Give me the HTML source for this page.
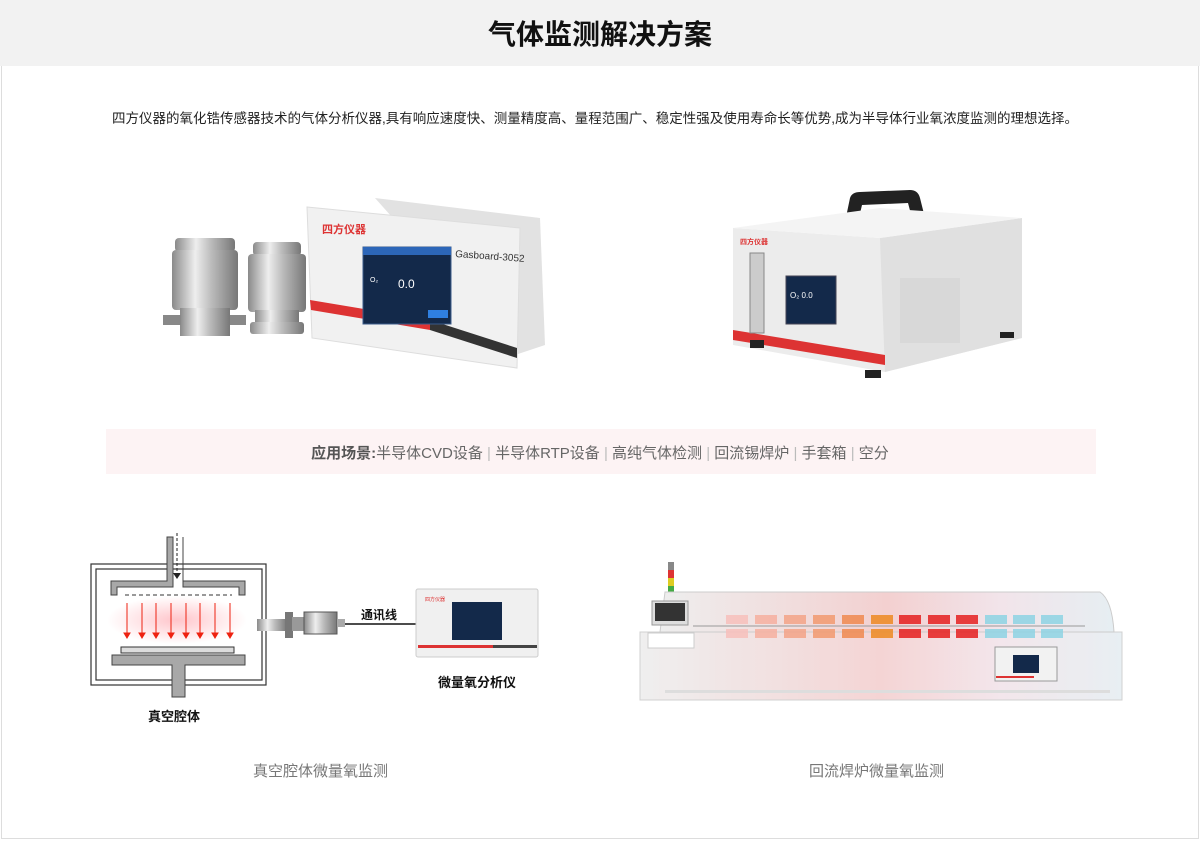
<!DOCTYPE html>
<html><head><meta charset="utf-8"><style>
*{margin:0;padding:0;box-sizing:border-box}
body{width:1200px;height:841px;background:#fff;position:relative;overflow:hidden;font-family:"Liberation Sans","Noto Sans CJK SC",sans-serif}
.hdr{position:absolute;left:0;top:0;width:1200px;height:66px;background:#f2f2f2;text-align:center;font-size:28px;font-weight:bold;line-height:70px;color:#111}
.frame{position:absolute;left:1px;top:66px;width:1198px;height:773px;border:1px solid #ddd;border-top:none}
.t{position:absolute;white-space:nowrap}
svg{position:absolute;left:0;top:0}
</style></head><body>
<div class="hdr">气体监测解决方案</div>
<div class="frame"></div>
<div class="t" style="left:112px;top:107px;font-size:13.5px;color:#222">四方仪器的氧化锆传感器技术的气体分析仪器,具有响应速度快、测量精度高、量程范围广、稳定性强及使用寿命长等优势,成为半导体行业氧浓度监测的理想选择。</div>
<div style="position:absolute;left:106px;top:429px;width:990px;height:45px;background:#fdf3f4"></div>
<div class="t" style="left:0;width:1200px;text-align:center;top:442px;font-size:15px;color:#666"><b style="color:#555">应用场景:</b>半导体CVD设备<span style="color:#bbb"> | </span>半导体RTP设备<span style="color:#bbb"> | </span>高纯气体检测<span style="color:#bbb"> | </span>回流锡焊炉<span style="color:#bbb"> | </span>手套箱<span style="color:#bbb"> | </span>空分</div>
<svg width="1200" height="841" viewBox="0 0 1200 841">
<defs>
<linearGradient id="met" x1="0" x2="1"><stop offset="0" stop-color="#8a8a8a"/><stop offset=".35" stop-color="#eee"/><stop offset=".6" stop-color="#bbb"/><stop offset="1" stop-color="#777"/></linearGradient>
<radialGradient id="glow"><stop offset="0" stop-color="#ff5a6a" stop-opacity=".35"/><stop offset="1" stop-color="#ff5a6a" stop-opacity="0"/></radialGradient>
<linearGradient id="heat" x1="0" x2="1"><stop offset="0" stop-color="#eee"/><stop offset=".5" stop-color="#f3d0d0"/><stop offset=".75" stop-color="#f2e4ea"/><stop offset="1" stop-color="#e6eef2"/></linearGradient>
</defs>
<g>
<rect x="175" y="238" width="60" height="14" rx="4" fill="url(#met)"/>
<rect x="172" y="250" width="66" height="60" rx="4" fill="url(#met)"/>
<rect x="180" y="308" width="50" height="28" fill="url(#met)"/>
<rect x="163" y="315" width="18" height="10" fill="#888"/>
<rect x="230" y="315" width="16" height="10" fill="#888"/>
<rect x="253" y="242" width="48" height="14" rx="4" fill="url(#met)"/>
<rect x="248" y="254" width="58" height="58" rx="4" fill="url(#met)"/>
<rect x="255" y="310" width="44" height="16" fill="url(#met)"/>
<rect x="250" y="322" width="54" height="12" rx="3" fill="url(#met)"/>
</g>
<polygon points="375,198 540,218 545,345 515,355" fill="#e2e2e2"/>
<polygon points="307,207 520,228 517,368 312,338" fill="#f1f1f1" stroke="#ddd"/>
<polygon points="310,300 430,320 430,330 311,310" fill="#d33"/>
<polygon points="430,320 517,348 517,358 430,330" fill="#333"/>
<rect x="363" y="247" width="88" height="77" fill="#13294a" stroke="#3a5a8a"/>
<rect x="363" y="247" width="88" height="8" fill="#2c66b8"/>
<text x="370" y="282" font-size="7" fill="#fff">O₂</text>
<text x="398" y="288" font-size="12" fill="#fff">0.0</text>
<rect x="428" y="310" width="20" height="8" fill="#2f7fe0"/>
<text x="322" y="233" font-size="11" fill="#d33" font-weight="bold">四方仪器</text>
<text x="455" y="257" font-size="10" fill="#333" transform="rotate(4 455 257)">Gasboard-3052</text>
<path d="M845,222 L850,198 Q852,192 860,192 L910,190 Q918,190 920,198 L925,218 L912,218 L908,203 L862,205 L858,222Z" fill="#222"/>
<polygon points="733,228 880,238 1022,218 1022,338 885,372 733,345" fill="#ececec"/>
<polygon points="880,238 1022,218 1022,338 885,372" fill="#e0e0e0"/>
<polygon points="733,228 880,238 1022,218 880,208" fill="#f4f4f4"/>
<polygon points="733,330 885,355 885,365 733,340" fill="#d33"/>
<rect x="750" y="253" width="14" height="80" fill="#ccc" stroke="#888"/>
<rect x="786" y="276" width="50" height="48" fill="#13294a" stroke="#445"/>
<text x="790" y="298" font-size="8" fill="#fff">O₂  0.0</text>
<rect x="900" y="278" width="60" height="65" fill="#d8d8d8"/>
<text x="740" y="244" font-size="7" fill="#d33" font-weight="bold">四方仪器</text>
<rect x="750" y="340" width="14" height="8" fill="#222"/><rect x="865" y="370" width="16" height="8" fill="#222"/><rect x="1000" y="332" width="14" height="6" fill="#222"/>
<rect x="91" y="564" width="175" height="121" fill="none" stroke="#333" stroke-width="1.2"/>
<rect x="96" y="569" width="166" height="111" fill="none" stroke="#333" stroke-width="1.2"/>
<ellipse cx="177" cy="620" rx="70" ry="24" fill="url(#glow)"/>
<path d="M167,537 V581 H111 V595 H117 V587 H173 V537Z M183,537 V581 H245 V595 H239 V587 H183 V537Z" fill="#a8a8a8" stroke="#444"/>
<line x1="177" y1="533" x2="177" y2="574" stroke="#222" stroke-dasharray="3,2"/>
<polygon points="173,573 181,573 177,579" fill="#222"/>
<line x1="125" y1="595" x2="232" y2="595" stroke="#333" stroke-dasharray="4,3"/>
<g stroke="#e21" fill="#e21">
<line x1="127" y1="603" x2="127" y2="633"/><line x1="142" y1="603" x2="142" y2="633"/><line x1="156" y1="603" x2="156" y2="633"/><line x1="171" y1="603" x2="171" y2="633"/><line x1="186" y1="603" x2="186" y2="633"/><line x1="200" y1="603" x2="200" y2="633"/><line x1="215" y1="603" x2="215" y2="633"/><line x1="230" y1="603" x2="230" y2="633"/>
<polygon points="124,633 130,633 127,638"/><polygon points="139,633 145,633 142,638"/><polygon points="153,633 159,633 156,638"/><polygon points="168,633 174,633 171,638"/><polygon points="183,633 189,633 186,638"/><polygon points="197,633 203,633 200,638"/><polygon points="212,633 218,633 215,638"/><polygon points="227,633 233,633 230,638"/>
</g>
<rect x="121" y="647" width="113" height="6" fill="#ddd" stroke="#333"/>
<path d="M112,655 H245 V665 H185 V697 H172 V665 H112Z" fill="#a8a8a8" stroke="#444"/>
<rect x="257" y="619" width="30" height="12" fill="url(#met)"/>
<rect x="285" y="612" width="8" height="26" fill="#777"/>
<rect x="292" y="617" width="12" height="14" fill="#999"/>
<rect x="304" y="612" width="33" height="22" fill="url(#met)" stroke="#555"/>
<rect x="337" y="619" width="8" height="8" fill="#aaa"/>
<line x1="345" y1="624" x2="416" y2="624" stroke="#111" stroke-width="1.5"/>
<rect x="416" y="589" width="122" height="68" rx="2" fill="#f0f0f0" stroke="#ccc"/>
<rect x="452" y="602" width="50" height="38" fill="#13294a"/>
<rect x="418" y="645" width="75" height="3" fill="#d33"/><rect x="493" y="645" width="44" height="3" fill="#444"/>
<text x="425" y="601" font-size="5" fill="#d33">四方仪器</text>
<rect x="668" y="562" width="6" height="30" fill="#888"/><rect x="668" y="570" width="6" height="8" fill="#d33"/><rect x="668" y="578" width="6" height="8" fill="#dc2"/><rect x="668" y="586" width="6" height="6" fill="#4a4"/>
<path d="M660,632 L665,592 L1100,592 Q1112,600 1114,632Z" fill="url(#heat)" stroke="#ccc"/>
<rect x="640" y="632" width="482" height="68" fill="url(#heat)" stroke="#ccc" opacity=".9"/>
<rect x="652" y="601" width="36" height="24" fill="#ddd" stroke="#999"/><rect x="655" y="603" width="30" height="18" fill="#333"/>
<rect x="648" y="633" width="46" height="15" fill="#fff" stroke="#ccc"/>
<g opacity=".85">
<rect x="726" y="615" width="22" height="9" fill="#f8c0bc"/><rect x="755" y="615" width="22" height="9" fill="#f6b0a0"/><rect x="784" y="615" width="22" height="9" fill="#f4a488"/><rect x="813" y="615" width="22" height="9" fill="#f29a70"/><rect x="842" y="615" width="22" height="9" fill="#f08a50"/><rect x="871" y="615" width="22" height="9" fill="#ee8a22"/><rect x="899" y="615" width="22" height="9" fill="#e62020"/><rect x="928" y="615" width="22" height="9" fill="#e62020"/><rect x="956" y="615" width="22" height="9" fill="#e62020"/><rect x="985" y="615" width="22" height="9" fill="#8ed4e4"/><rect x="1013" y="615" width="22" height="9" fill="#8ed4e4"/><rect x="1041" y="615" width="22" height="9" fill="#8ed4e4"/>
<rect x="726" y="629" width="22" height="9" fill="#f8c0bc"/><rect x="755" y="629" width="22" height="9" fill="#f6b0a0"/><rect x="784" y="629" width="22" height="9" fill="#f4a488"/><rect x="813" y="629" width="22" height="9" fill="#f29a70"/><rect x="842" y="629" width="22" height="9" fill="#f08a50"/><rect x="871" y="629" width="22" height="9" fill="#ee8a22"/><rect x="899" y="629" width="22" height="9" fill="#e62020"/><rect x="928" y="629" width="22" height="9" fill="#e62020"/><rect x="956" y="629" width="22" height="9" fill="#e62020"/><rect x="985" y="629" width="22" height="9" fill="#8ed4e4"/><rect x="1013" y="629" width="22" height="9" fill="#8ed4e4"/><rect x="1041" y="629" width="22" height="9" fill="#8ed4e4"/>
</g>
<line x1="693" y1="626" x2="1085" y2="626" stroke="#999"/>
<rect x="995" y="647" width="62" height="34" fill="#f2f2f2" stroke="#999"/><rect x="1013" y="655" width="26" height="18" fill="#13294a"/><rect x="996" y="676" width="38" height="2" fill="#d33"/>
<rect x="665" y="690" width="445" height="3" fill="#ddd"/>
</svg>
<div class="t" style="left:361px;top:606px;font-size:12px;font-weight:bold;color:#111">通讯线</div>
<div class="t" style="left:438px;top:672px;font-size:13px;font-weight:bold;color:#111">微量氧分析仪</div>
<div class="t" style="left:148px;top:706px;font-size:13px;font-weight:bold;color:#111">真空腔体</div>
<div class="t" style="left:253px;top:760px;font-size:15px;color:#777">真空腔体微量氧监测</div>
<div class="t" style="left:809px;top:760px;font-size:15px;color:#777">回流焊炉微量氧监测</div>
</body></html>
